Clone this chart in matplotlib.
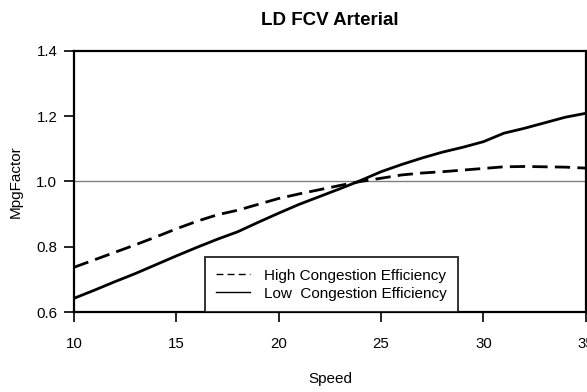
import matplotlib
matplotlib.use("Agg")
import matplotlib.pyplot as plt
from matplotlib.lines import Line2D

plt.rcParams['font.family'] = ['Liberation Sans', 'DejaVu Sans']

# Speed bins and efficiency factors for the two congestion cases
speed = [10, 11, 12, 13, 14, 15, 16, 17, 18, 19, 20, 21, 22,
         23, 24, 25, 26, 27, 28, 29, 30, 31, 32, 33, 34, 35]
high_congestion = [0.737, 0.760, 0.783, 0.806, 0.830, 0.855, 0.878, 0.898, 0.912,
                   0.930, 0.948, 0.962, 0.975, 0.988, 1.000, 1.010, 1.020, 1.026,
                   1.030, 1.035, 1.040, 1.045, 1.046, 1.045, 1.044, 1.041]
low_congestion = [0.642, 0.667, 0.693, 0.718, 0.745, 0.772, 0.798, 0.823, 0.846,
                  0.875, 0.903, 0.930, 0.954, 0.978, 1.003, 1.030, 1.052, 1.072,
                  1.090, 1.105, 1.122, 1.148, 1.163, 1.180, 1.197, 1.209]
labels = ["High Congestion Efficiency", "Low  Congestion Efficiency"]

fig = plt.figure(figsize=(5.87, 3.92), dpi=100)
ax = fig.add_axes([0.126, 0.204, 0.872, 0.666])

ax.axhline(1.0, color='#808080', lw=1.0, zorder=1)
ax.plot(speed, high_congestion, color='black', lw=2.0, linestyle=(0, (5.5, 2.6)), zorder=3)
ax.plot(speed, low_congestion, color='black', lw=2.0, zorder=3)

ax.set_xlim(10, 35)
ax.set_ylim(0.6, 1.4)
ax.set_xticks([10, 15, 20, 25, 30, 35])
ax.set_yticks([0.6, 0.8, 1.0, 1.2, 1.4])
ax.set_yticklabels(["0.6", "0.8", "1.0", "1.2", "1.4"])

for s in ax.spines.values():
    s.set_linewidth(1.6)
ax.tick_params(axis='both', direction='out', length=7, width=1.2, labelsize=10.8)
ax.tick_params(axis='x', pad=11)
ax.tick_params(axis='y', pad=5)

ax.set_title("LD FCV Arterial", fontsize=13.5, fontweight='bold', pad=19)
ax.set_xlabel("Speed", fontsize=11, labelpad=15)
ax.set_ylabel("MpgFactor", fontsize=11, labelpad=10)

handles = [Line2D([], [], color='black', lw=1.0, linestyle=(0, (5, 3))),
           Line2D([], [], color='black', lw=1.0)]
leg = ax.legend(handles, labels, loc='lower left', bbox_to_anchor=(0.256, 0.0),
                fontsize=11, frameon=True, fancybox=False, borderpad=0.75,
                labelspacing=0.25, handlelength=2.2, handletextpad=0.9,
                borderaxespad=0.0)
leg.get_frame().set_edgecolor('black')
leg.get_frame().set_linewidth(1.4)

fig.savefig("out.png", dpi=100)
